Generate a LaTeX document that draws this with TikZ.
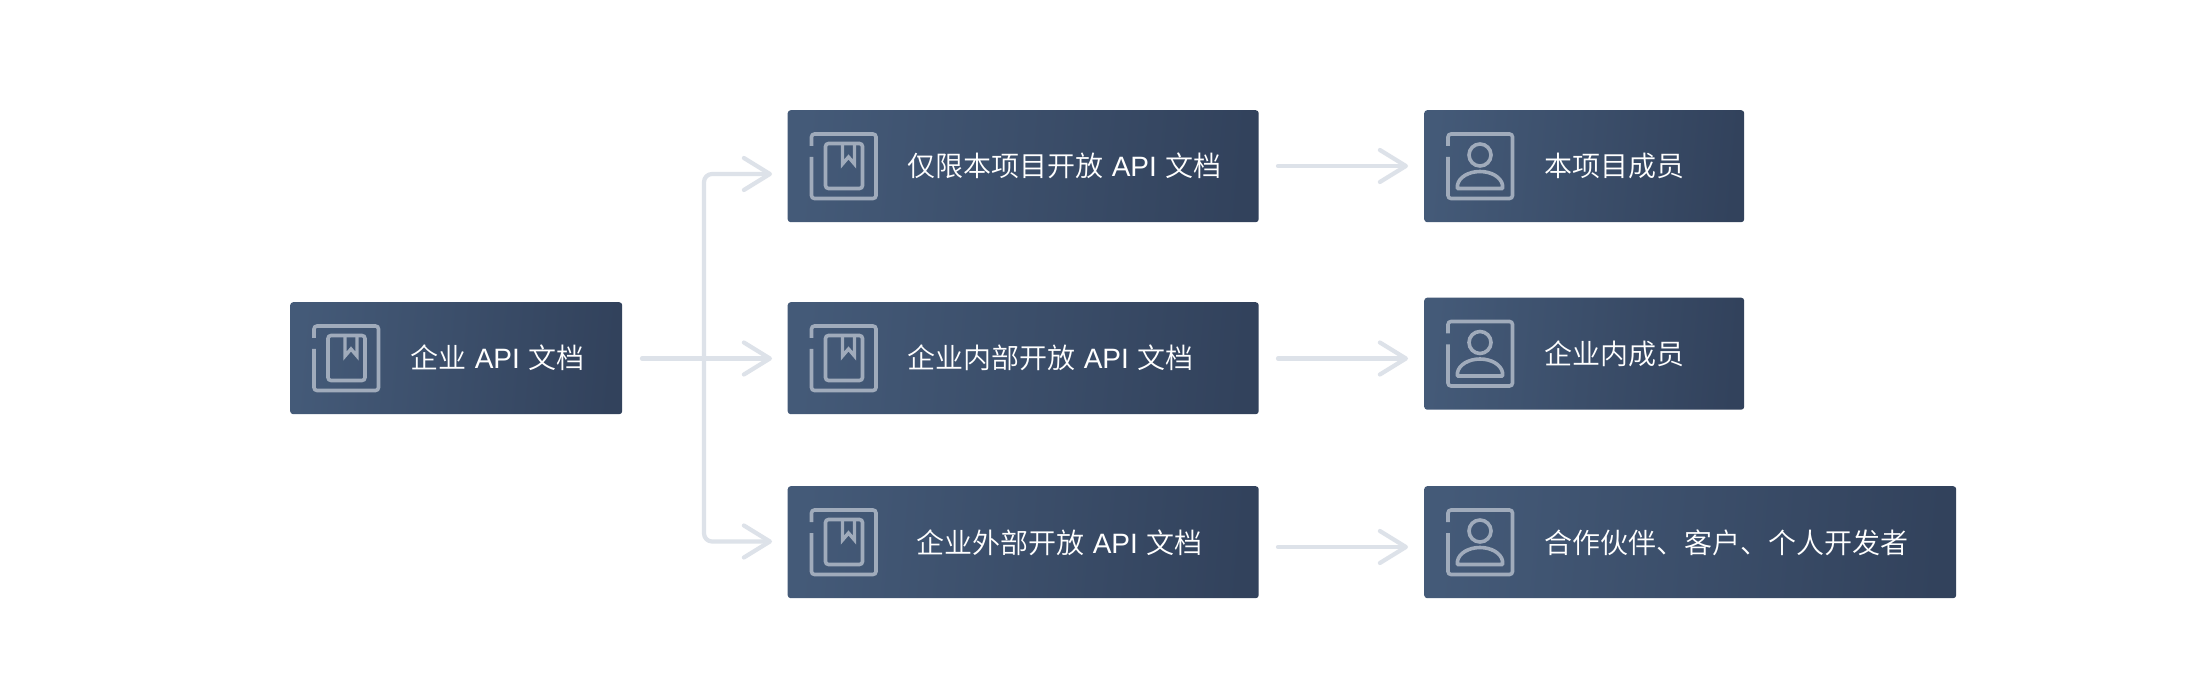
\documentclass[tikz,border=0pt]{standalone}
\usepackage{fontspec}
\setmainfont{Noto Sans CJK SC DemiLight}
\newfontfamily\lat{Liberation Sans}
\usetikzlibrary{arrows.meta}
\definecolor{boxL}{HTML}{445A78}
\definecolor{boxR}{HTML}{32425C}
\definecolor{iconC}{HTML}{A0ABBB}
\definecolor{linkC}{HTML}{DDE2E9}
\newcommand\lblfont{\fontsize{28pt}{28pt}\selectfont\spaceskip=8.6pt\relax}
\tikzset{
  x=1pt,y=-1pt,
  boxn/.style={anchor=north west,inner sep=0pt,minimum height=112pt,rounded corners=3pt,left color=boxL,right color=boxR,shading angle=85,draw=none},
  lbl/.style={anchor=base west,inner sep=0pt,text=white,font=\lblfont},
  conn/.style={draw=linkC,line width=4.2pt,line cap=round,line join=round,-{Straight Barb[length=26pt,width=32pt,round]}},
  iconl/.style={draw=iconC,line width=3.6pt,rounded corners=3pt},
  frameicon/.pic={\draw[iconl,line cap=butt] (24,36) -- (24,24) -- (88.5,24) -- (88.5,88.5) -- (24,88.5) -- (24,47);},
  bookicon/.pic={
    \pic {frameicon};
    \draw[iconl] (38,33.5) rectangle (75,78.5);
    \draw[draw=iconC,line width=3.4pt,line join=miter] (55,33.5) -- (55,54) -- (61,47) -- (67,54) -- (67,33.5);
  },
  personicon/.pic={
    \pic {frameicon};
    \draw[draw=iconC,line width=3.6pt] (56,45) circle[radius=11];
    \draw[draw=iconC,line width=3.6pt,line join=round] (33.5,78.5) -- (33.5,75) .. controls (35,67) and (45,61.5) .. (56,61.5) .. controls (67,61.5) and (77,67) .. (78.5,75) -- (78.5,78.5) -- cycle;
  },
}
\begin{document}
\begin{tikzpicture}
\useasboundingbox (0,0) rectangle (2200,700);
\fill[white] (0,0) rectangle (2200,700);

\node[boxn,minimum width=332pt] (b0) at (290,302) {};
\node[boxn,minimum width=471pt] (b1) at (787.5,110) {};
\node[boxn,minimum width=471pt] (b2) at (787.5,302) {};
\node[boxn,minimum width=471pt] (b3) at (787.5,486) {};
\node[boxn,minimum width=320pt] (p1) at (1424,110) {};
\node[boxn,minimum width=320pt] (p2) at (1424,297.5) {};
\node[boxn,minimum width=532pt] (p3) at (1424,486) {};

\pic at (b0.north west) {bookicon};
\pic at (b1.north west) {bookicon};
\pic at (b2.north west) {bookicon};
\pic at (b3.north west) {bookicon};
\pic at (p1.north west) {personicon};
\pic at (p2.north west) {personicon};
\pic at (p3.north west) {personicon};

\node[lbl] (t0) at (410,369) {企业 {\lat API} 文档};
\node[lbl] (t1) at (907,177) {仅限本项目开放 {\lat API} 文档};
\node[lbl] (t2) at (907,369) {企业内部开放 {\lat API} 文档};
\node[lbl] (t3) at (916,553) {企业外部开放 {\lat API} 文档};
\node[lbl] (u1) at (1544,177) {本项目成员};
\node[lbl] (u2) at (1544,365) {企业内成员};
\node[lbl] (u3) at (1544,553) {合作伙伴、客户、个人开发者};

\coordinate (s0) at (642,358.5);
\coordinate (j) at (704,358.5);
\coordinate (e1) at (772,174);
\coordinate (e2) at (772,358.5);
\coordinate (e3) at (772,541.5);
\coordinate (s1) at (1278,166);
\coordinate (f1) at (1408,166);
\coordinate (s2) at (1278,358.5);
\coordinate (f2) at (1408,358.5);
\coordinate (s3) at (1278,547);
\coordinate (f3) at (1408,547);

\draw[conn] (s0) -- (e2);
\draw[conn,rounded corners=8pt] (j) |- (e1);
\draw[conn,rounded corners=8pt] (j) |- (e3);
\draw[conn] (s1) -- (f1);
\draw[conn] (s2) -- (f2);
\draw[conn] (s3) -- (f3);
\end{tikzpicture}
\end{document}
